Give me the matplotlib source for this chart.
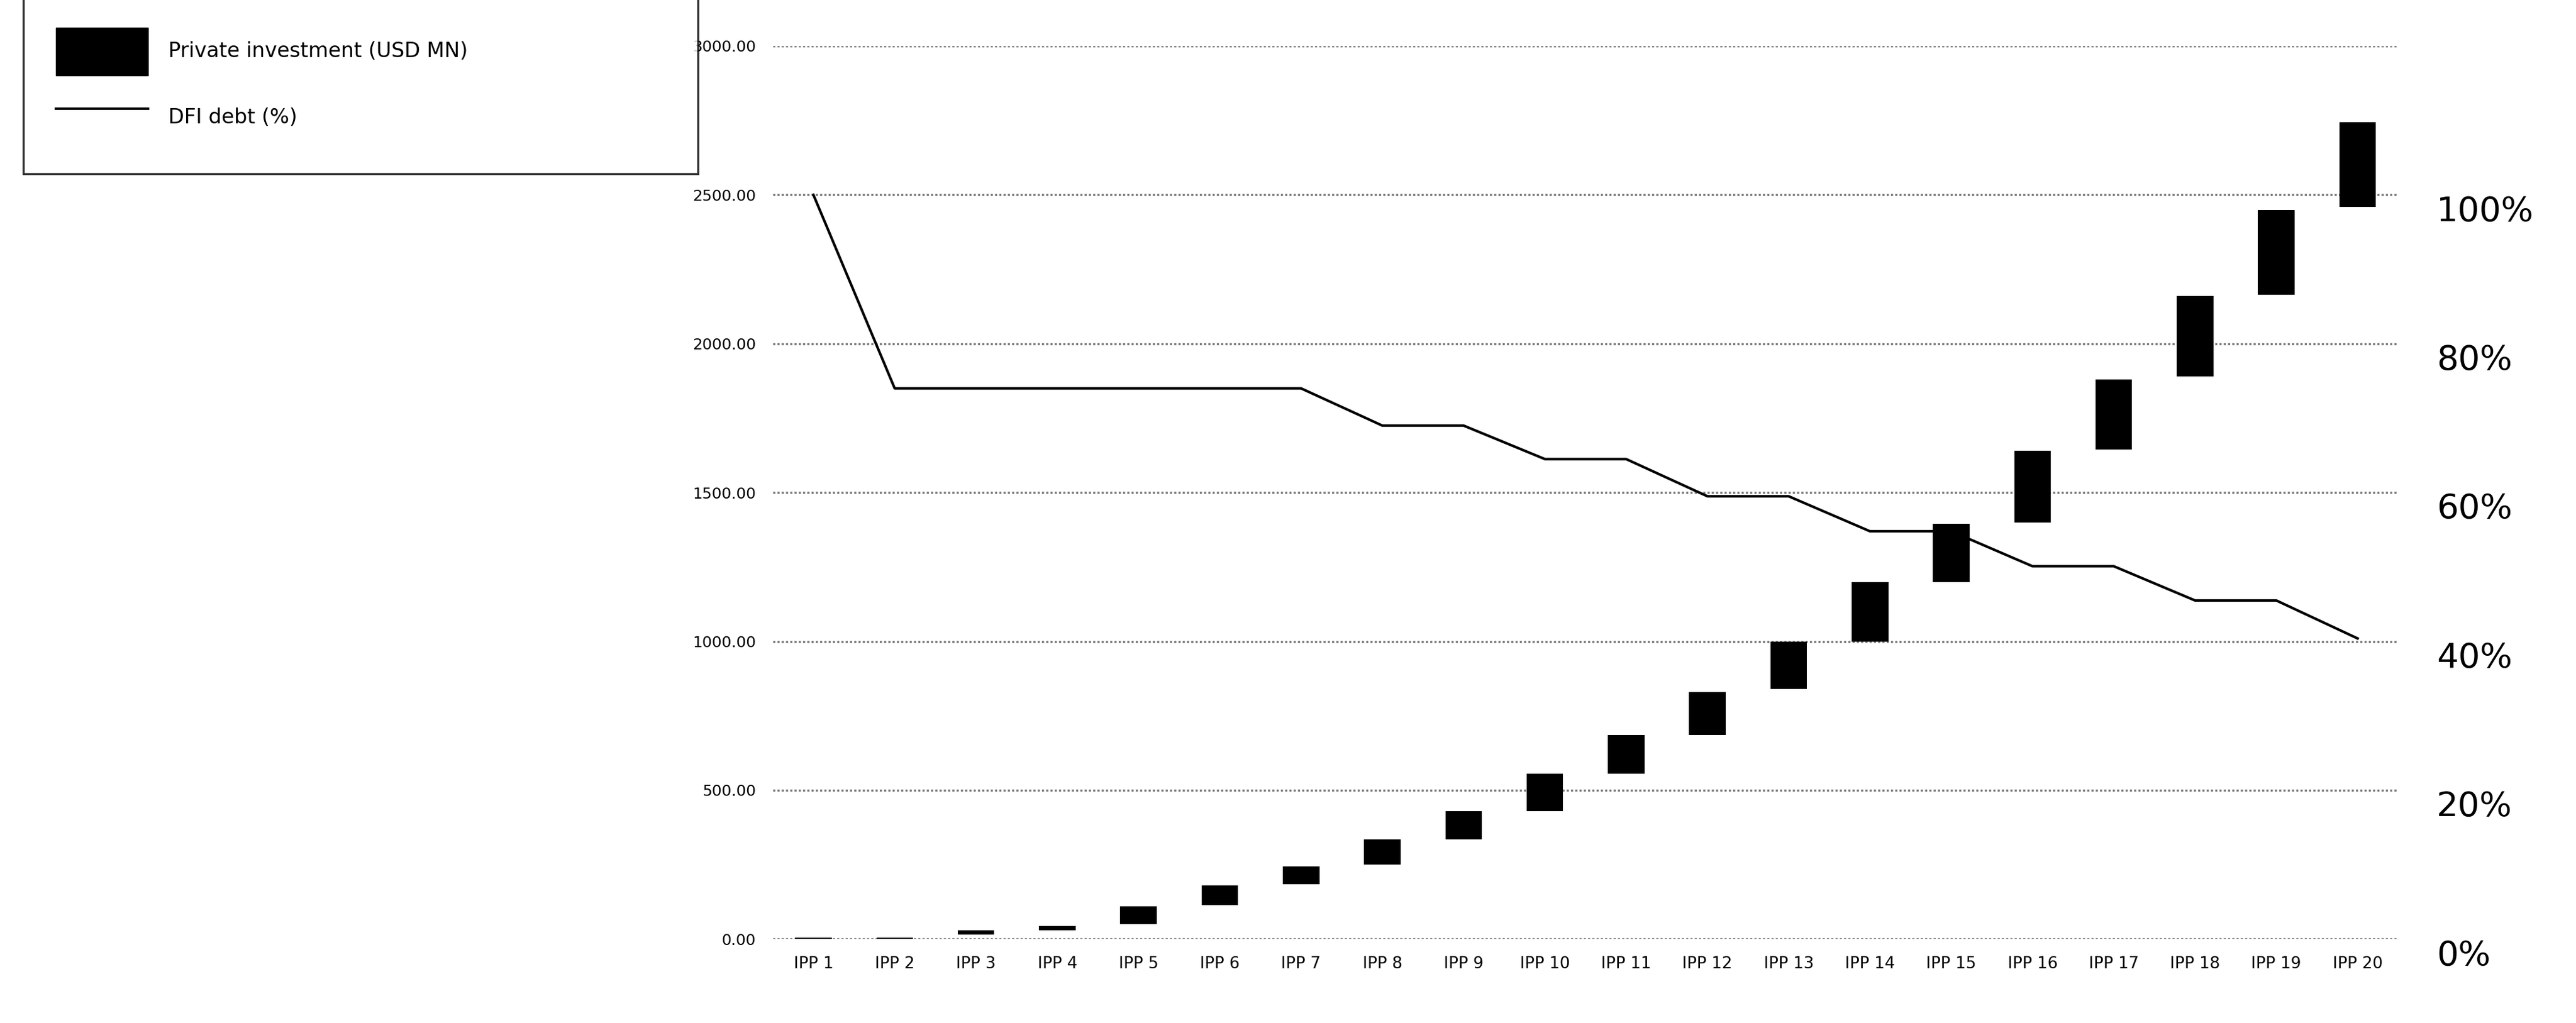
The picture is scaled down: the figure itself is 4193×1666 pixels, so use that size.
import matplotlib
matplotlib.use("Agg")
import matplotlib.pyplot as plt
from matplotlib.patches import Patch
from matplotlib.lines import Line2D

# Private investment, floating bars (USD MN): bottom and top of each bar
projects = [f"IPP {i}" for i in range(1, 21)]
inv_low = [0, 0, 15, 30, 50, 115, 185, 250, 335, 430,
           555, 685, 840, 1000, 1200, 1400, 1645, 1890, 2165, 2460]
inv_high = [5, 5, 30, 45, 110, 180, 245, 335, 430, 555,
            685, 830, 1000, 1200, 1395, 1640, 1880, 2160, 2450, 2745]

# DFI debt share (%)
dfi_debt = [100, 74, 74, 74, 74, 74, 74, 69, 69, 64.5,
            64.5, 59.5, 59.5, 54.8, 54.8, 50.1, 50.1, 45.5, 45.5, 40.4]

fig = plt.figure(figsize=(41.93, 16.66), dpi=100)
ax = fig.add_axes([0.30, 0.082, 0.631, 0.873])
x = list(range(len(projects)))

heights = [h - l for l, h in zip(inv_low, inv_high)]
ax.bar(x, heights, bottom=inv_low, width=0.45, color="black", zorder=3)
ax.set_ylim(0, 3000)
ax.set_xlim(-0.5, len(projects) - 0.5)
ax.set_yticks(range(0, 3001, 500))
ax.set_yticklabels([f"{v:.2f}" for v in range(0, 3001, 500)], fontsize=18)
ax.set_xticks(x)
ax.set_xticklabels(projects, fontsize=19)
ax.tick_params(length=0, pad=20)
ax.grid(axis="y", linestyle=(0, (1, 1)), color="#777777", linewidth=2.5, zorder=0)
for s in ax.spines.values():
    s.set_visible(False)

ax2 = ax.twinx()
ax2.plot(x, dfi_debt, color="black", linewidth=3, zorder=4)
ax2.set_ylim(0, 120)
ax2.set_yticks(range(0, 101, 20))
ax2.set_yticklabels([f"{v}%" for v in range(0, 101, 20)], fontsize=40, va="top")
ax2.tick_params(length=0, pad=45)
for s in ax2.spines.values():
    s.set_visible(False)

handles = [Patch(facecolor="black", edgecolor="black"),
           Line2D([0], [0], color="black", linewidth=3)]
leg = fig.legend(handles, ["Private investment (USD MN)", "DFI debt (%)"],
                 loc="upper left", bbox_to_anchor=(0.009, 0.905, 0.262, 0.1),
                 mode="expand", fontsize=24,
                 frameon=True, fancybox=False, edgecolor="black",
                 handlelength=4.5, handleheight=3.2, borderpad=1.6,
                 labelspacing=0.9, handletextpad=1.0, borderaxespad=0)
leg.get_frame().set_linewidth(2.5)

fig.savefig("out.png", dpi=100)
